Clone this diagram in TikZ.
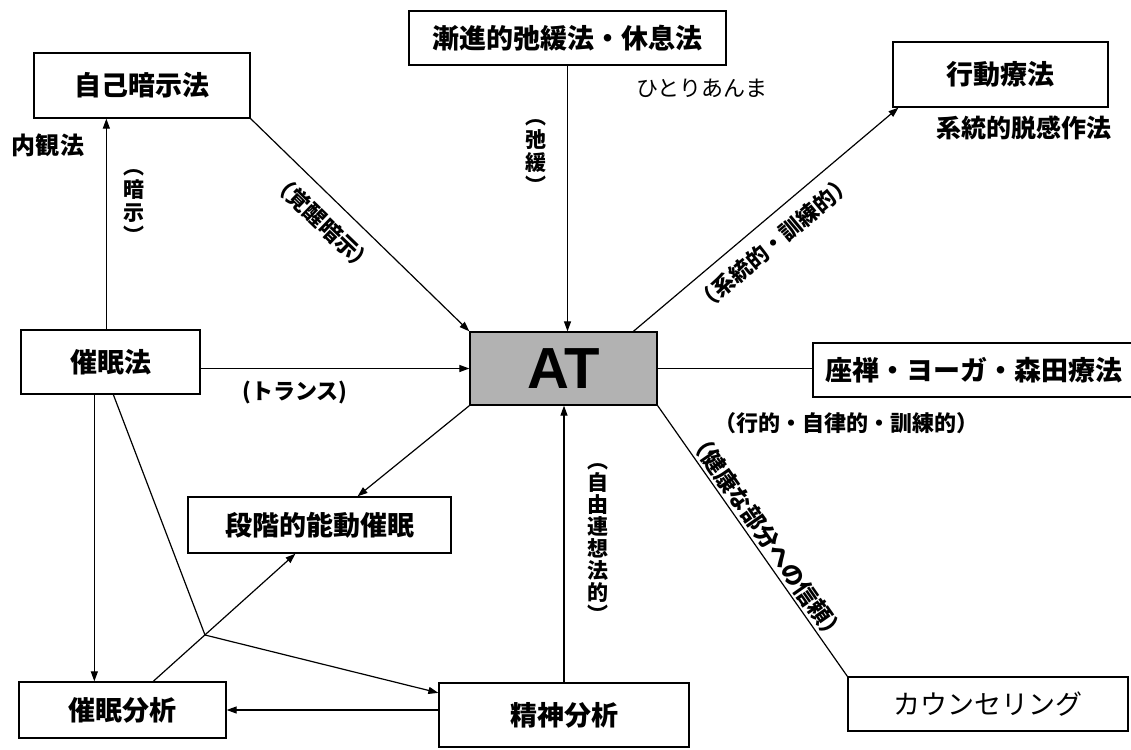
\documentclass[tikz,border=0pt]{standalone}
\usepackage{fontspec}
\setmainfont{Noto Sans CJK JP}
\newfontfamily\atfont{Liberation Sans}
\usetikzlibrary{arrows.meta,calc}
\begin{document}
\begin{tikzpicture}[x=1pt,y=-1pt,
  box/.style={draw, line width=1.3pt, inner sep=0pt, fill=white,
    font=\fontsize{27}{30}\selectfont\bfseries},
  boxr/.style={box, font=\fontsize{27}{30}\selectfont},
  atbox/.style={draw, line width=1.3pt, inner sep=0pt, fill=black!30,
    font=\atfont\fontsize{58}{60}\selectfont\bfseries},
  lab/.style={inner sep=0pt, font=\fontsize{22}{24}\selectfont\bfseries},
  labr/.style={inner sep=0pt, font=\fontsize{22}{24}\selectfont},
  vlab/.style={inner sep=0pt, align=center, font=\fontsize{21}{23}\selectfont\bfseries},
  conn/.style={line width=1.2pt},
  arr/.style={conn, -{Triangle[length=10pt,width=7pt]}}]
\useasboundingbox (0,0) rectangle (1131,749);
\fill[white] (0,0) rectangle (1131,749);

% boxes
\node[box, minimum width=216pt, minimum height=65pt] (jiko) at (142,85.5) {自己暗示法};
\node[box, minimum width=317pt, minimum height=54pt] (zenshin) at (567.5,38) {漸進的弛緩法・休息法};
\node[box, minimum width=215pt, minimum height=65pt] (koudou) at (1000.5,74.5) {行動療法};
\node[box, minimum width=179pt, minimum height=64pt] (saimin) at (110.5,362) {催眠法};
\node[atbox, minimum width=187pt, minimum height=73pt] (AT) at (563.5,368.5) {AT};
\node[box, minimum width=321pt, minimum height=54pt] (zazen) at (973.5,370) {座禅・ヨーガ・森田療法};
\node[box, minimum width=263pt, minimum height=56pt] (dankai) at (319.5,525) {段階的能動催眠};
\node[box, minimum width=207pt, minimum height=56pt] (saibun) at (122.5,710) {催眠分析};
\node[box, minimum width=250pt, minimum height=64pt] (seishin) at (564,715) {精神分析};
\node[boxr, minimum width=280pt, minimum height=54pt] (counsel) at (988,704) {カウンセリング};

% helper coordinates
\coordinate (s1) at ($(saimin.north west)+(86,0)$);
\coordinate (s2) at ($(saimin.south west)+(74,0)$);
\coordinate (s3) at ($(saimin.south west)+(93,0)$);
\coordinate (jn) at (205,635);

% connectors
\draw[arr] (s1) -- (s1 |- jiko.south);
\draw[arr] (jiko.south east) -- (AT.north west);
\draw[arr] (zenshin.south) -- (zenshin.south |- AT.north);
\draw[arr] (AT.28) -- (koudou.198);
\draw[arr] (saimin.east |- AT.west) -- (AT.west);
\draw[conn] (AT.east) -- (AT.east -| zazen.west);
\draw[arr] (AT.south west) -- (dankai.37);
\draw[arr] (seishin.north) -- (seishin.north |- AT.south);
\draw[conn] (AT.south east) -- (counsel.north west);
\draw[arr] (s2) -- (s2 |- saibun.north);
\draw[conn] (s3) -- (jn);
\draw[arr] (jn) -- (seishin.170);
\draw[arr] (saibun.43) -- (dankai.230);
\draw[arr] (seishin.west |- saibun.east) -- (saibun.east);

% labels
\node[lab, font=\fontsize{24}{26}\selectfont\bfseries] (naikan) at (48,145) {内観法};
\node[labr] (hitori) at (702,88) {ひとりあんま};
\node[lab, font=\fontsize{25}{27}\selectfont\bfseries] (datsukan) at (1024,128) {系統的脱感作法};
\node[vlab] (anji) at (134,207) {︵\\暗\\示\\︶};
\node[vlab] (shikan) at (536,157) {︵\\弛\\緩\\︶};
\node[vlab, font=\fontsize{21}{22}\selectfont\bfseries] (jiyuu) at (598,543) {︵\\自\\由\\連\\想\\法\\的\\︶};
\node[lab, rotate=-44] (kakusei) at (323,223) {（覚醒暗示）};
\node[lab, rotate=40] (kunren) at (774,243) {（系統的・訓練的）};
\node[lab] (trance) at (295,392) {(トランス)};
\node[lab] (gyou) at (846,423) {（行的・自律的・訓練的）};
\node[lab, rotate=-55, font=\fontsize{23}{25}\selectfont\bfseries] (kenkou) at (767,537) {（健康な部分への信頼）};
\end{tikzpicture}
\end{document}
